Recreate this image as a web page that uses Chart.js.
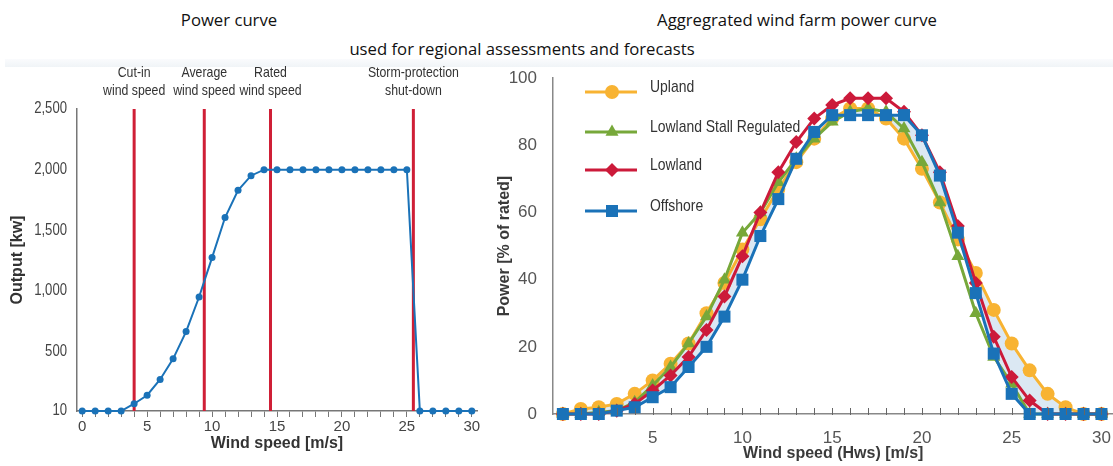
<!DOCTYPE html>
<html>
<head>
<meta charset="utf-8">
<script src="https://cdn.jsdelivr.net/npm/chart.js@4.4.0/dist/chart.umd.min.js"></script>
<style>
  body { margin: 0; background: #fff; width: 1113px; height: 466px; overflow: hidden; position: relative; }
  .title { position: absolute; font-family: "Open Sans", sans-serif; font-size: 16.7px; color: #111; white-space: nowrap; transform: translate(-50%, -50%); }
  .band { position: absolute; left: 5px; top: 59px; width: 1108px; height: 8px; background: linear-gradient(#fafbfd, #f0f4f7); }
  canvas { position: absolute; }
</style>
</head>
<body>
<div class="band"></div>
<div class="title" style="left:229px; top:19px">Power curve</div>
<div class="title" style="left:797px; top:19px">Aggregrated wind farm power curve</div>
<div class="title" style="left:522px; top:48px">used for regional assessments and forecasts</div>
<canvas id="left" style="left:0; top:60px" width="490" height="406"></canvas>
<!-- a little wider than the page: Chart.js keeps room for the big markers on the right -->
<canvas id="right" style="left:490px; top:60px" width="632" height="406"></canvas>

<script>
// ---- data: single turbine power curve ----
const windSpeed = [0, 1, 2, 3, 4, 5, 6, 7, 8, 9, 10, 11, 12, 13, 14, 15, 16, 17, 18, 19, 20, 21, 22, 23, 24, 25, 26, 27, 28, 29, 30];
const outputKw = [10, 10, 10, 10, 70, 140, 270, 440, 665, 950, 1275, 1605, 1830, 1950, 2000, 2000, 2000, 2000, 2000, 2000, 2000, 2000, 2000, 2000, 2000, 2000, 10, 10, 10, 10, 10];
const markerSpeeds = [4, 9.4, 14.5, 25.5];
const markerLabels = [["Cut-in", "wind speed"], ["Average", "wind speed"], ["Rated", "wind speed"], ["Storm-protection", "shut-down"]];
const outputTicks = [10, 500, 1000, 1500, 2000, 2500];

// ---- data: aggregated wind farm curves (% of rated) ----
const farmNames = ["Upland", "Lowland Stall Regulated", "Lowland", "Offshore"];
const upland = [0, 1.5, 2, 3, 6, 10, 15, 21, 30, 39, 49, 58, 67, 75, 82, 88, 91, 91, 88, 82, 73, 63, 52, 42, 31, 21, 13, 6, 2, 0, 0];
const lowlandStall = [0, 0, 0.5, 1, 3.5, 8.5, 14, 21, 29, 40, 54, 60, 69, 76, 82, 87, 90, 91, 90, 85, 75, 63, 47, 30, 17, 9, 0, 0, 0, 0, 0];
const lowland = [0, 0, 0, 1, 3, 7, 11.5, 17, 25, 35, 47, 60, 72, 81, 88, 92, 94, 94, 94, 90, 83, 72, 56, 39, 23, 11, 4, 0, 0, 0, 0];
const offshore = [0, 0, 0, 1, 2, 5, 8, 14, 20, 29, 40, 53, 64, 76, 84, 89, 89, 89, 89, 89, 83, 71, 54, 36, 18, 6, 0, 0, 0, 0, 0];
const powerTicks = [0, 20, 40, 60, 80, 100];

const SANS = '"Liberation Sans", Arial, sans-serif';
const pts = (ys) => windSpeed.map((x, i) => ({ x, y: ys[i] }));

const BLUE = "#1a72b8";
const RED = "#cf1f36";

// no narrow font installed, so squeeze Liberation Sans like Arial Narrow
function narrowText(ctx, text, x, y, align) {
  ctx.save();
  ctx.translate(x, y);
  ctx.scale(0.82, 1);
  ctx.textAlign = align;
  ctx.fillText(text, 0, 0);
  ctx.restore();
}

// keep the x axis from reserving room for its end labels
const fitX = (h) => (s) => {
  s.height = h;
  s.paddingLeft = 0;
  s.paddingRight = 0;
};

// labels above the red marker lines + narrow y tick labels
const leftText = {
  id: "leftText",
  afterDraw(chart) {
    const { ctx } = chart;
    const x = chart.scales.x;
    const y = chart.scales.y;
    ctx.save();
    ctx.fillStyle = "#333";
    ctx.font = `15px ${SANS}`;
    ctx.textBaseline = "middle";
    markerSpeeds.forEach((v, i) => {
      const px = x.getPixelForValue(v);
      narrowText(ctx, markerLabels[i][0], px, 13, "center");
      narrowText(ctx, markerLabels[i][1], px, 31, "center");
    });
    ctx.fillStyle = "#444";
    ctx.font = `16px ${SANS}`;
    outputTicks.forEach((v) => {
      narrowText(ctx, v.toLocaleString("en-US"), 67, y.getPixelForValue(v), "right");
    });
    ctx.restore();
  },
};

new Chart(document.getElementById("left"), {
  type: "line",
  data: {
    datasets: [
      {
        data: pts(outputKw),
        borderColor: BLUE,
        backgroundColor: BLUE,
        borderWidth: 2,
        pointRadius: 3.5,
        pointBorderWidth: 0,
        tension: 0,
        clip: false,
      },
      ...markerSpeeds.map((v) => ({
        data: [{ x: v, y: 10 }, { x: v, y: 2500 }],
        borderColor: RED,
        borderWidth: 3,
        pointRadius: 0,
      })),
    ],
  },
  options: {
    responsive: false,
    animation: false,
    layout: { padding: { top: 49, right: 13, left: 0, bottom: 0 } },
    plugins: { legend: { display: false }, tooltip: { enabled: false } },
    scales: {
      x: {
        type: "linear",
        min: -0.4,
        max: 30.4,
        afterFit: fitX(55),
        ticks: {
          stepSize: 1,
          includeBounds: false,
          autoSkip: false,
          maxRotation: 0,
          padding: 1,
          color: "#444",
          font: { family: SANS, size: 15 },
          callback: (v) => (v % 5 === 0 ? v : ""),
        },
        grid: { display: true, drawOnChartArea: false, drawTicks: true, tickLength: 6, color: "#777" },
        border: { display: true, color: "#777", width: 1.5 },
        title: { display: true, text: "Wind speed [m/s]", color: "#333", font: { family: SANS, size: 16, weight: "bold" }, padding: { bottom: 13 } },
      },
      y: {
        min: 10,
        max: 2500,
        afterFit: (s) => { s.width = 77; },
        afterBuildTicks: (s) => { s.ticks = outputTicks.map((value) => ({ value })); },
        ticks: { display: false },
        grid: { display: false },
        border: { display: true, color: "#777", width: 1.5 },
        title: { display: true, text: "Output [kw]", color: "#333", font: { family: SANS, size: 16, weight: "bold" }, padding: { top: 8 } },
      },
    },
  },
  plugins: [leftText],
});

// ---- right chart ----
const farmStyles = [
  { color: "#f8b332", point: "circle", radius: 7 },
  { color: "#77a83a", point: "triangle", radius: 7.5 },
  { color: "#cc1a3a", point: "rectRot", radius: 7 },
  { color: "#1a72b8", point: "rect", radius: 8.5 },
];

function drawMarker(ctx, style, x, y) {
  const r = style.radius;
  ctx.beginPath();
  if (style.point === "circle") {
    ctx.arc(x, y, r, 0, Math.PI * 2);
  } else if (style.point === "triangle") {
    ctx.moveTo(x, y - r);
    ctx.lineTo(x + r * 0.866, y + r * 0.5);
    ctx.lineTo(x - r * 0.866, y + r * 0.5);
    ctx.closePath();
  } else if (style.point === "rectRot") {
    ctx.moveTo(x, y - r);
    ctx.lineTo(x + r, y);
    ctx.lineTo(x, y + r);
    ctx.lineTo(x - r, y);
    ctx.closePath();
  } else {
    const s = r * Math.SQRT1_2;
    ctx.rect(x - s, y - s, 2 * s, 2 * s);
  }
  ctx.fill();
}

const farmLegend = {
  id: "farmLegend",
  beforeDatasetsDraw(chart) {
    const { ctx } = chart;
    const markerY = [32, 72, 110, 151];
    ctx.save();
    ctx.font = `17px ${SANS}`;
    ctx.textBaseline = "middle";
    farmNames.forEach((name, i) => {
      const st = farmStyles[i];
      const y = markerY[i];
      ctx.strokeStyle = st.color;
      ctx.fillStyle = st.color;
      ctx.lineWidth = 3;
      ctx.beginPath();
      ctx.moveTo(95, y);
      ctx.lineTo(147, y);
      ctx.stroke();
      drawMarker(ctx, st, 122, y);
      ctx.fillStyle = "#333";
      narrowText(ctx, name, 160, y - 5, "left");
    });
    ctx.restore();
  },
};

// inward x tick marks
const innerTicks = {
  id: "innerTicks",
  afterDraw(chart) {
    const { ctx } = chart;
    const x = chart.scales.x;
    const bottom = chart.chartArea.bottom;
    ctx.save();
    ctx.strokeStyle = "#666";
    ctx.lineWidth = 1;
    windSpeed.forEach((v) => {
      if (v === 0) return;
      const px = Math.round(x.getPixelForValue(v)) + 0.5;
      ctx.beginPath();
      ctx.moveTo(px, bottom - 6);
      ctx.lineTo(px, bottom + 1);
      ctx.stroke();
    });
    ctx.restore();
  },
};

const farmSeries = [upland, lowlandStall, lowland, offshore];

new Chart(document.getElementById("right"), {
  type: "line",
  data: {
    datasets: farmSeries.map((ys, i) => ({
      label: farmNames[i],
      data: pts(ys),
      borderColor: farmStyles[i].color,
      backgroundColor: i === 0 ? "rgba(190, 214, 234, 0.55)" : farmStyles[i].color,
      pointBackgroundColor: farmStyles[i].color,
      pointStyle: farmStyles[i].point,
      pointRadius: farmStyles[i].radius,
      pointBorderWidth: 0,
      borderWidth: 3,
      tension: 0,
      clip: false,
      fill: i === 0 ? 3 : false,
      order: 3 - i,
    })),
  },
  options: {
    responsive: false,
    animation: false,
    layout: { padding: { top: 15, right: 0, left: 0, bottom: 0 } },
    plugins: { legend: { display: false }, tooltip: { enabled: false } },
    scales: {
      x: {
        type: "linear",
        min: -0.55,
        max: 30.67,
        afterFit: fitX(52),
        ticks: {
          stepSize: 1,
          includeBounds: false,
          autoSkip: false,
          maxRotation: 0,
          padding: 6,
          color: "#555",
          font: { family: SANS, size: 17 },
          callback: (v) => (v % 5 === 0 && v > 0 ? v : ""),
        },
        grid: { display: false },
        border: { display: true, color: "#888", width: 1.5 },
        title: { display: true, text: "Wind speed (Hws) [m/s]", color: "#3a3a3a", font: { family: SANS, size: 16, weight: "bold" }, padding: { bottom: 3 } },
      },
      y: {
        min: 0,
        max: 100,
        afterFit: (s) => { s.width = 63; },
        afterBuildTicks: (s) => { s.ticks = powerTicks.map((value) => ({ value })); },
        ticks: { padding: 8, color: "#555", font: { family: SANS, size: 17 } },
        grid: { display: false },
        border: { display: true, color: "#888", width: 1.5 },
        title: { display: true, text: "Power [% of rated]", color: "#3a3a3a", font: { family: SANS, size: 16, weight: "bold" }, padding: { top: 5 } },
      },
    },
  },
  plugins: [farmLegend, innerTicks],
});
</script>
</body>
</html>
